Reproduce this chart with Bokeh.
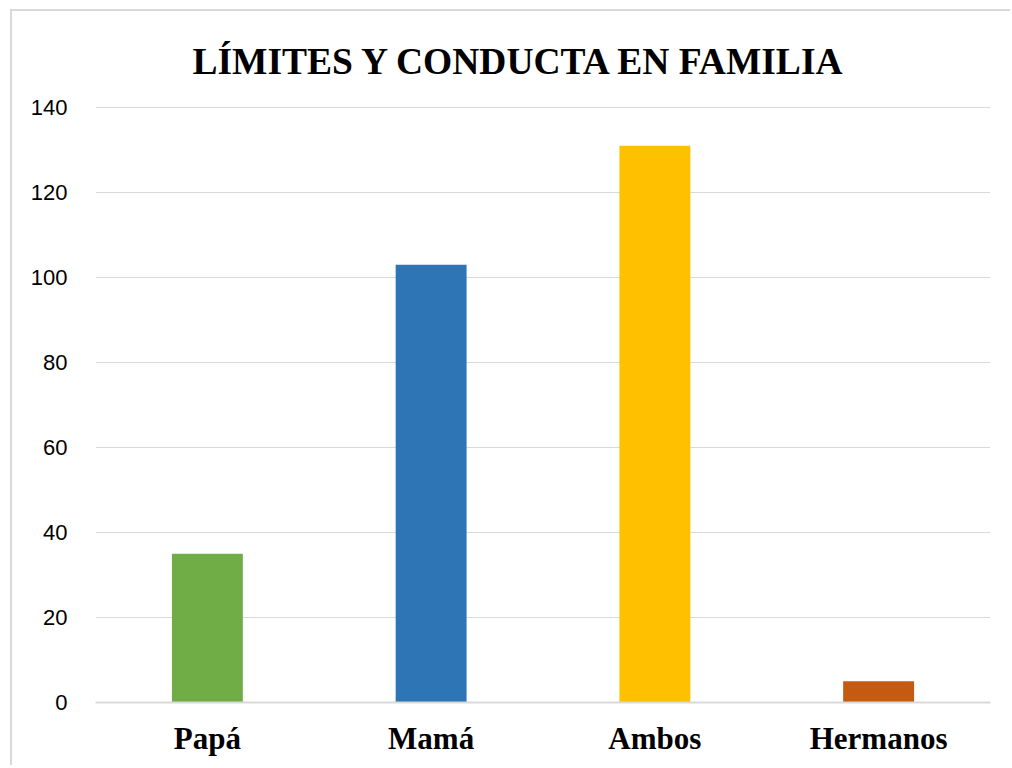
from bokeh.plotting import figure
from bokeh.models import ColumnDataSource, FactorRange, Range1d
from bokeh.embed import file_html
from bokeh.resources import INLINE

categories = ["Papá", "Mamá", "Ambos", "Hermanos"]
values = [35, 103, 131, 5]
colors = ["#70AD47", "#2E75B6", "#FFC000", "#C55A11"]
y_ticks = [0, 20, 40, 60, 80, 100, 120, 140]
title_text = "LÍMITES Y CONDUCTA EN FAMILIA"

source = ColumnDataSource(data=dict(cat=categories, val=values, color=colors))

p = figure(
    x_range=FactorRange(*categories, range_padding=0),
    y_range=Range1d(0, 140.25),
    width=1000, height=756,
    output_backend="svg", toolbar_location=None,
    min_border_left=83, min_border_right=22, min_border_top=95, min_border_bottom=65,
    title=title_text,
)
p.styles = {"margin-left": "12px", "margin-top": "11px",
            "box-shadow": "-2px -2px 0px 0px #d9d9d9"}

p.vbar(x="cat", top="val", width=0.317, color="color", source=source, line_color=None)

p.title.text_font = "Liberation Serif"
p.title.text_font_style = "bold"
p.title.text_font_size = "37.5px"
p.title.align = "left"
p.title.text_color = "black"
p.title.standoff = 50
p.title.offset = 97

p.outline_line_color = None
p.border_fill_color = "white"
p.xgrid.grid_line_color = None
p.ygrid.grid_line_color = "#d9d9d9"
p.ygrid.grid_line_width = 1
p.yaxis.ticker = y_ticks
p.yaxis.axis_line_color = None
p.yaxis.major_tick_line_color = None
p.yaxis.minor_tick_line_color = None
p.yaxis.major_label_text_font = "Liberation Sans"
p.yaxis.major_label_text_font_size = "22px"
p.yaxis.major_label_text_color = "black"
p.yaxis.major_label_standoff = 22

p.xaxis.axis_line_color = "#d9d9d9"
p.xaxis.axis_line_width = 2
p.xaxis.major_tick_line_color = None
p.xaxis.minor_tick_line_color = None
p.xaxis.major_label_text_font = "Liberation Serif"
p.xaxis.major_label_text_font_style = "bold"
p.xaxis.major_label_text_font_size = "31px"
p.xaxis.major_label_text_color = "black"
p.xaxis.major_label_standoff = 12

open("out.html", "w").write(file_html(p, INLINE))
